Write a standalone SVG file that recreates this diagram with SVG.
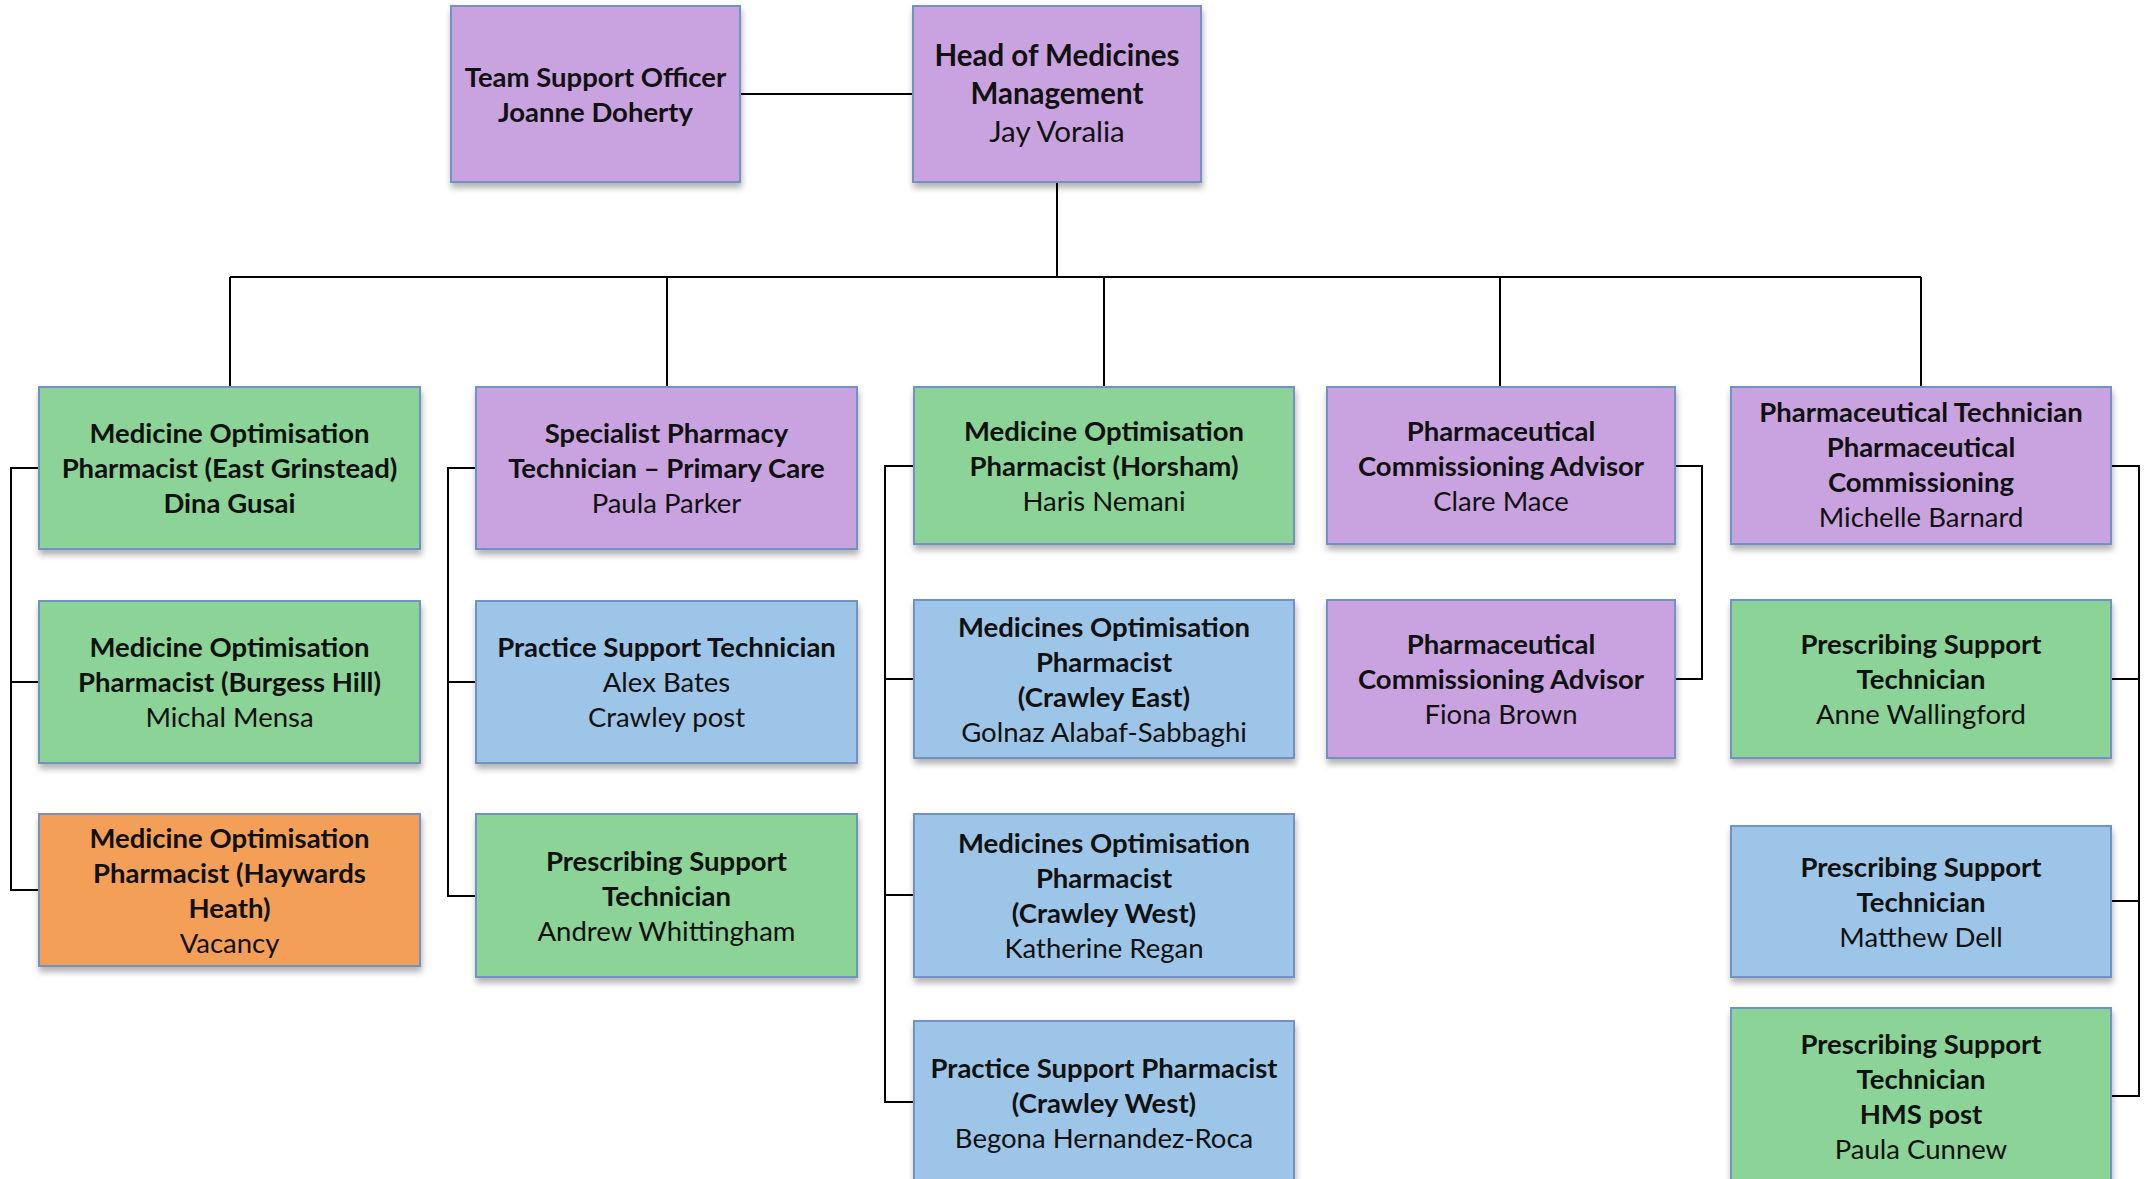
<svg xmlns="http://www.w3.org/2000/svg" width="2148" height="1179" viewBox="0 0 2148 1179">
<defs>
<filter id="sh" x="-10%" y="-10%" width="120%" height="130%">
<feDropShadow dx="1" dy="5" stdDeviation="3" flood-color="#000" flood-opacity="0.3"/>
</filter>
<style>
.box{stroke:#7092C6;stroke-width:2;filter:url(#sh)}
.p{fill:#C9A3E0}.g{fill:#8BD396}.b{fill:#9DC5E7}.o{fill:#F49F58}
text{font-family:Lato,"Open Sans","Liberation Sans",sans-serif;font-size:27.5px;fill:#111;text-anchor:middle}
.t{font-weight:bold}
.hd{font-size:29.5px}
.c{fill:none;stroke:#000;stroke-width:2}
</style>
</defs>
<rect width="2148" height="1179" fill="#fff"/>
<g id="connectors">
<path class="c" d="M740,94H913"/>
<path class="c" d="M1057,182V277"/>
<path class="c" d="M230,277H1921"/>
<path class="c" d="M230,277V387M667,277V387M1104,277V387M1500,277V387M1921,277V387"/>
<path class="c" d="M39,468H11V890H39M11,682H39"/>
<path class="c" d="M476,468H448V896H476M448,682H476"/>
<path class="c" d="M914,466H885V1102H914M885,679H914M885,895H914"/>
<path class="c" d="M1675,466H1702V679H1675"/>
<path class="c" d="M2111,466H2139V1096H2111M2139,679H2111M2139,901H2111"/>
</g>
<g id="team-support">
<rect class="box p" x="451" y="6" width="289" height="176"/>
<text x="595.5" y="87" class="t">Team Support Officer</text>
<text x="595.5" y="122" class="t">Joanne Doherty</text>
</g>
<g id="head">
<rect class="box p" x="913" y="6" width="288" height="176"/>
<text x="1057" y="66" class="t hd">Head of Medicines</text>
<text x="1057" y="104" class="t hd">Management</text>
<text x="1057" y="142" class="hd">Jay Voralia</text>
</g>
<g id="mop-east-grinstead">
<rect class="box g" x="39" y="387" width="381" height="162"/>
<text x="229.5" y="443" class="t">Medicine Optimisation</text>
<text x="229.5" y="478" class="t">Pharmacist (East Grinstead)</text>
<text x="229.5" y="513" class="t">Dina Gusai</text>
</g>
<g id="mop-burgess-hill">
<rect class="box g" x="39" y="601" width="381" height="162"/>
<text x="229.5" y="657" class="t">Medicine Optimisation</text>
<text x="229.5" y="692" class="t">Pharmacist (Burgess Hill)</text>
<text x="229.5" y="727">Michal Mensa</text>
</g>
<g id="mop-haywards-heath">
<rect class="box o" x="39" y="814" width="381" height="152"/>
<text x="229.5" y="848" class="t">Medicine Optimisation</text>
<text x="229.5" y="883" class="t">Pharmacist (Haywards</text>
<text x="229.5" y="918" class="t">Heath)</text>
<text x="229.5" y="953">Vacancy</text>
</g>
<g id="specialist-tech">
<rect class="box p" x="476" y="387" width="381" height="162"/>
<text x="666.5" y="443" class="t">Specialist Pharmacy</text>
<text x="666.5" y="478" class="t">Technician – Primary Care</text>
<text x="666.5" y="513">Paula Parker</text>
</g>
<g id="practice-support-tech">
<rect class="box b" x="476" y="601" width="381" height="162"/>
<text x="666.5" y="657" class="t">Practice Support Technician</text>
<text x="666.5" y="692">Alex Bates</text>
<text x="666.5" y="727">Crawley post</text>
</g>
<g id="prescribing-andrew">
<rect class="box g" x="476" y="814" width="381" height="163"/>
<text x="666.5" y="871" class="t">Prescribing Support</text>
<text x="666.5" y="906" class="t">Technician</text>
<text x="666.5" y="941">Andrew Whittingham</text>
</g>
<g id="mop-horsham">
<rect class="box g" x="914" y="387" width="380" height="157"/>
<text x="1104" y="441" class="t">Medicine Optimisation</text>
<text x="1104" y="476" class="t">Pharmacist (Horsham)</text>
<text x="1104" y="511">Haris Nemani</text>
</g>
<g id="mop-crawley-east">
<rect class="box b" x="914" y="600" width="380" height="158"/>
<text x="1104" y="637" class="t">Medicines Optimisation</text>
<text x="1104" y="672" class="t">Pharmacist</text>
<text x="1104" y="707" class="t">(Crawley East)</text>
<text x="1104" y="742">Golnaz Alabaf-Sabbaghi</text>
</g>
<g id="mop-crawley-west">
<rect class="box b" x="914" y="814" width="380" height="163"/>
<text x="1104" y="853" class="t">Medicines Optimisation</text>
<text x="1104" y="888" class="t">Pharmacist</text>
<text x="1104" y="923" class="t">(Crawley West)</text>
<text x="1104" y="958">Katherine Regan</text>
</g>
<g id="practice-support-pharmacist">
<rect class="box b" x="914" y="1021" width="380" height="163"/>
<text x="1104" y="1078" class="t">Practice Support Pharmacist</text>
<text x="1104" y="1113" class="t">(Crawley West)</text>
<text x="1104" y="1148">Begona Hernandez-Roca</text>
</g>
<g id="pca-clare">
<rect class="box p" x="1327" y="387" width="348" height="157"/>
<text x="1501" y="441" class="t">Pharmaceutical</text>
<text x="1501" y="476" class="t">Commissioning Advisor</text>
<text x="1501" y="511">Clare Mace</text>
</g>
<g id="pca-fiona">
<rect class="box p" x="1327" y="600" width="348" height="158"/>
<text x="1501" y="654" class="t">Pharmaceutical</text>
<text x="1501" y="689" class="t">Commissioning Advisor</text>
<text x="1501" y="724">Fiona Brown</text>
</g>
<g id="tech-michelle">
<rect class="box p" x="1731" y="387" width="380" height="157"/>
<text x="1921" y="422" class="t">Pharmaceutical Technician</text>
<text x="1921" y="457" class="t">Pharmaceutical</text>
<text x="1921" y="492" class="t">Commissioning</text>
<text x="1921" y="527">Michelle Barnard</text>
</g>
<g id="pst-anne">
<rect class="box g" x="1731" y="600" width="380" height="158"/>
<text x="1921" y="654" class="t">Prescribing Support</text>
<text x="1921" y="689" class="t">Technician</text>
<text x="1921" y="724">Anne Wallingford</text>
</g>
<g id="pst-matthew">
<rect class="box b" x="1731" y="826" width="380" height="151"/>
<text x="1921" y="877" class="t">Prescribing Support</text>
<text x="1921" y="912" class="t">Technician</text>
<text x="1921" y="947">Matthew Dell</text>
</g>
<g id="pst-paula">
<rect class="box g" x="1731" y="1008" width="380" height="176"/>
<text x="1921" y="1054" class="t">Prescribing Support</text>
<text x="1921" y="1089" class="t">Technician</text>
<text x="1921" y="1124" class="t">HMS post</text>
<text x="1921" y="1159">Paula Cunnew</text>
</g>
</svg>
